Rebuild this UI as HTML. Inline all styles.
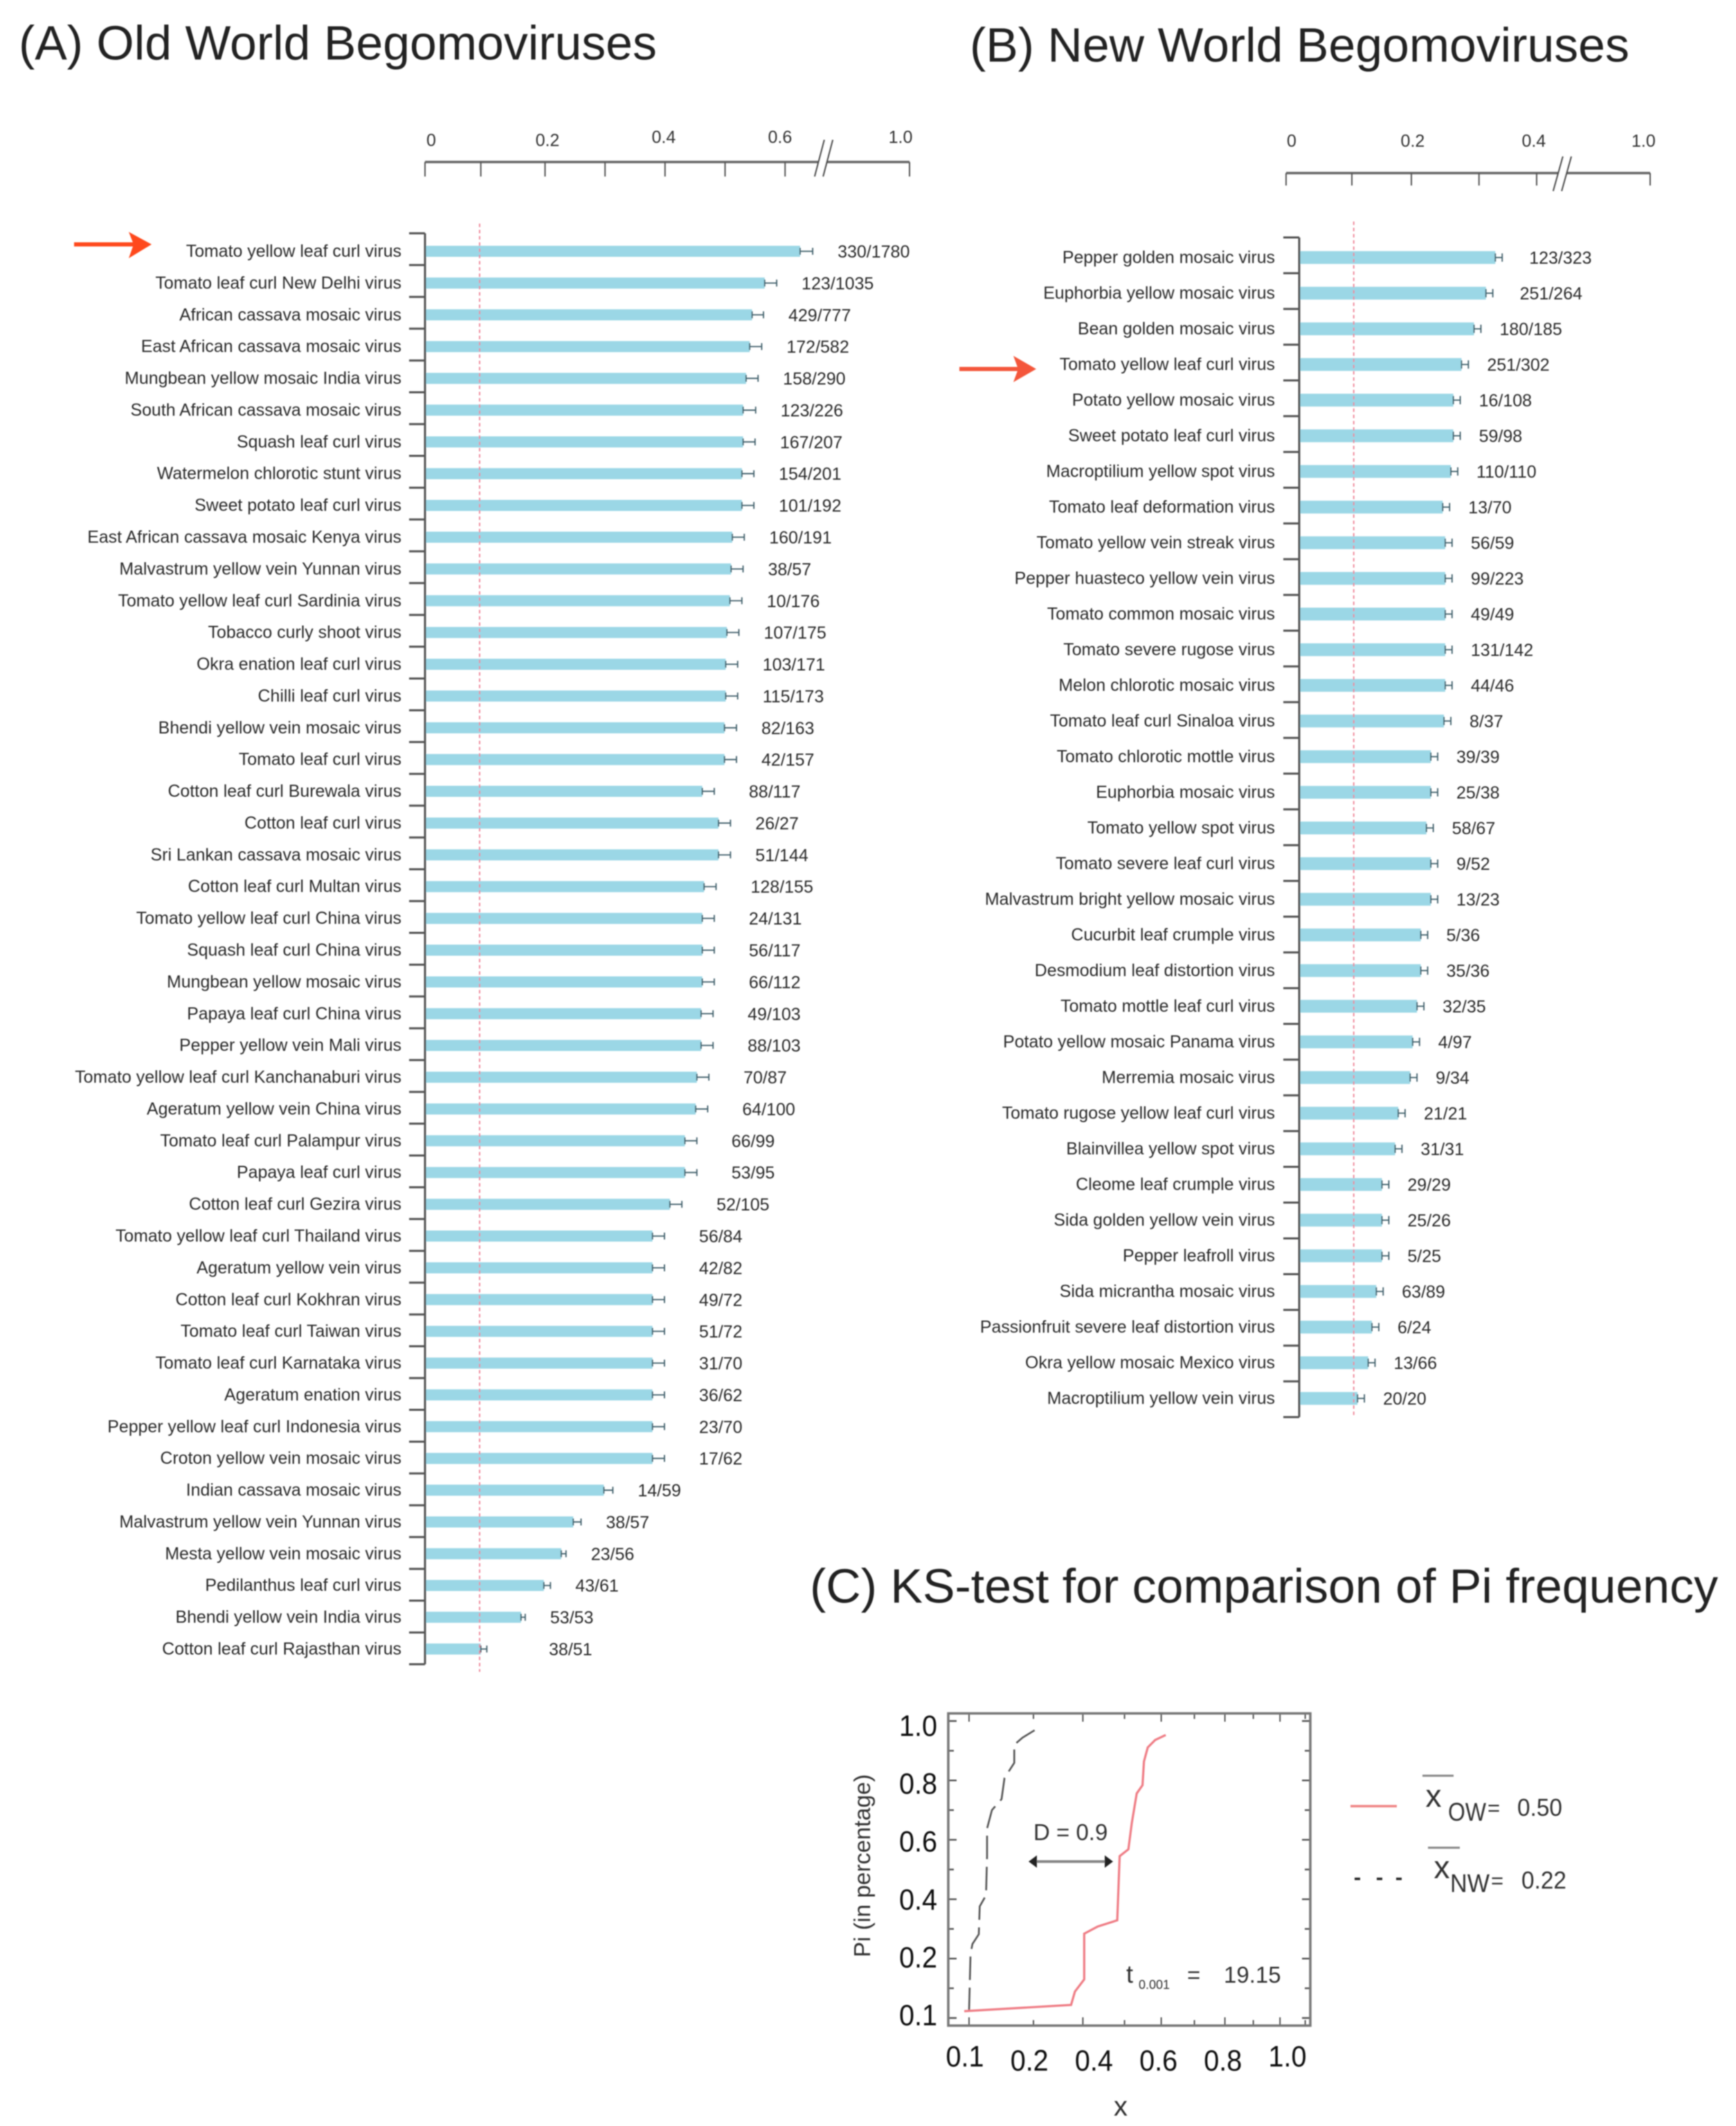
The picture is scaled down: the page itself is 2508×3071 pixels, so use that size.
<!DOCTYPE html>
<html lang="en">
<head>
<meta charset="utf-8">
<title>Begomovirus Pi frequency comparison</title>
<style>
html,body{margin:0;padding:0;background:#fff;width:2508px;height:3071px;overflow:hidden}
svg{position:absolute;left:0;top:0;display:block}
text{font-family:"Liberation Sans",sans-serif}
</style>
</head>
<body>
<svg id="figure" xmlns="http://www.w3.org/2000/svg" width="2508" height="3071" viewBox="0 0 2508 3071">
  <defs>
    <filter id="soft" x="-2%" y="-2%" width="104%" height="104%"><feGaussianBlur stdDeviation="0.7"/></filter>
  </defs>
  <rect x="0" y="0" width="2508" height="3071" fill="#fff"/>
  <g id="root" filter="url(#soft)">
    <text x="27" y="86" font-size="69.8" fill="#222">(A) Old World Begomoviruses</text>
    <text x="1401" y="89" font-size="69.8" fill="#222">(B) New World Begomoviruses</text>
    <text x="1170" y="2315" font-size="69.85" fill="#222">(C) KS-test for comparison of Pi frequency</text>

    <g id="panelA"></g>
    <g id="panelB"></g>

    <g>
      <rect x="107" y="350" width="92" height="6" fill="#ff4a1c"/>
      <polygon points="186,335 219,353 186,373 193,353" fill="#ff4a1c"/>
    </g>
    <g>
      <rect x="1386" y="530" width="90" height="6" fill="#f4573a"/>
      <polygon points="1464,514 1497,533 1464,552 1471,533" fill="#f4573a"/>
    </g>

    <g id="panelC">
      <text transform="translate(1257,2695) rotate(-90)" text-anchor="middle" font-size="33.5" fill="#333">Pi (in percentage)</text>
      <text x="1619" y="3056" text-anchor="middle" font-size="40" fill="#333">x</text>
      <text x="1493" y="2658" font-size="33" fill="#333">D = 0.9</text>
      <g>
        <line x1="1492" y1="2689" x2="1602" y2="2689" stroke="#888" stroke-width="4"/>
        <polygon points="1486,2689 1498,2680 1498,2698" fill="#222"/>
        <polygon points="1608,2689 1596,2680 1596,2698" fill="#222"/>
      </g>
      <text x="1627" y="2864" font-size="36" fill="#333">t</text>
      <text x="1645" y="2873" font-size="18" fill="#333">0.001</text>
      <text x="1715" y="2864" font-size="33" fill="#333">=</text>
      <text x="1768" y="2864" font-size="33" fill="#333">19.15</text>

      <g>
        <line x1="1951" y1="2609" x2="2018" y2="2609" stroke="#f08585" stroke-width="3.5"/>
        <line x1="2055" y1="2565" x2="2100" y2="2565" stroke="#888" stroke-width="3"/>
        <text x="2071" y="2610" text-anchor="middle" font-size="46" fill="#333">x</text>
        <text x="2092" y="2630" font-size="37" textLength="55" lengthAdjust="spacingAndGlyphs" fill="#333">OW</text>
        <text x="2149" y="2622" font-size="31" fill="#333">=</text>
        <text x="2192" y="2623" font-size="35" textLength="65" lengthAdjust="spacingAndGlyphs" fill="#333">0.50</text>
      </g>
      <g>
        <g stroke="#222" stroke-width="3.5">
          <line x1="1957" y1="2714" x2="1965" y2="2714"/>
          <line x1="1989" y1="2714" x2="1997" y2="2714"/>
          <line x1="2017" y1="2714" x2="2025" y2="2714"/>
        </g>
        <line x1="2063" y1="2669" x2="2109" y2="2669" stroke="#888" stroke-width="3"/>
        <text x="2083" y="2713" text-anchor="middle" font-size="46" fill="#333">x</text>
        <text x="2095" y="2733" font-size="37" textLength="57" lengthAdjust="spacingAndGlyphs" fill="#333">NW</text>
        <text x="2154" y="2727" font-size="31" fill="#333">=</text>
        <text x="2198" y="2728" font-size="35" textLength="65" lengthAdjust="spacingAndGlyphs" fill="#333">0.22</text>
      </g>
    </g>
  </g>
</svg>
<script>
/* Panel A data */
const namesA = ["Tomato yellow leaf curl virus","Tomato leaf curl New Delhi virus","African cassava mosaic virus","East African cassava mosaic virus","Mungbean yellow mosaic India virus","South African cassava mosaic virus","Squash leaf curl virus","Watermelon chlorotic stunt virus","Sweet potato leaf curl virus","East African cassava mosaic Kenya virus","Malvastrum yellow vein Yunnan virus","Tomato yellow leaf curl Sardinia virus","Tobacco curly shoot virus","Okra enation leaf curl virus","Chilli leaf curl virus","Bhendi yellow vein mosaic virus","Tomato leaf curl virus","Cotton leaf curl Burewala virus","Cotton leaf curl virus","Sri Lankan cassava mosaic virus","Cotton leaf curl Multan virus","Tomato yellow leaf curl China virus","Squash leaf curl China virus","Mungbean yellow mosaic virus","Papaya leaf curl China virus","Pepper yellow vein Mali virus","Tomato yellow leaf curl Kanchanaburi virus","Ageratum yellow vein China virus","Tomato leaf curl Palampur virus","Papaya leaf curl virus","Cotton leaf curl Gezira virus","Tomato yellow leaf curl Thailand virus","Ageratum yellow vein virus","Cotton leaf curl Kokhran virus","Tomato leaf curl Taiwan virus","Tomato leaf curl Karnataka virus","Ageratum enation virus","Pepper yellow leaf curl Indonesia virus","Croton yellow vein mosaic virus","Indian cassava mosaic virus","Malvastrum yellow vein Yunnan virus","Mesta yellow vein mosaic virus","Pedilanthus leaf curl virus","Bhendi yellow vein India virus","Cotton leaf curl Rajasthan virus"];
const valuesA = [0.625,0.566,0.545,0.541,0.535,0.530,0.530,0.528,0.528,0.512,0.510,0.508,0.503,0.501,0.501,0.499,0.499,0.462,0.489,0.489,0.465,0.462,0.462,0.462,0.460,0.460,0.453,0.451,0.433,0.433,0.408,0.379,0.379,0.379,0.379,0.379,0.379,0.379,0.379,0.298,0.247,0.227,0.198,0.160,0.093];
const errorsA = [0.021,0.020,0.019,0.020,0.020,0.021,0.020,0.020,0.020,0.020,0.020,0.020,0.020,0.020,0.020,0.020,0.020,0.020,0.020,0.020,0.020,0.020,0.020,0.020,0.020,0.020,0.020,0.020,0.020,0.020,0.020,0.020,0.020,0.020,0.020,0.020,0.020,0.020,0.020,0.015,0.013,0.008,0.011,0.007,0.010];
const countsA = ["330/1780","123/1035","429/777","172/582","158/290","123/226","167/207","154/201","101/192","160/191","38/57","10/176","107/175","103/171","115/173","82/163","42/157","88/117","26/27","51/144","128/155","24/131","56/117","66/112","49/103","88/103","70/87","64/100","66/99","53/95","52/105","56/84","42/82","49/72","51/72","31/70","36/62","23/70","17/62","14/59","38/57","23/56","43/61","53/53","38/51"];
const tickValuesA = [0,0.093,0.2,0.3,0.4,0.5,0.6,1.0];
const tickLabelValuesA = [0,0.2,0.4,0.6,1.0];
const tickLabelsA = ["0","0.2","0.4","0.6","1.0"];
const thresholdA = 0.091;

/* Panel B data */
const namesB = ["Pepper golden mosaic virus","Euphorbia yellow mosaic virus","Bean golden mosaic virus","Tomato yellow leaf curl virus","Potato yellow mosaic virus","Sweet potato leaf curl virus","Macroptilium yellow spot virus","Tomato leaf deformation virus","Tomato yellow vein streak virus","Pepper huasteco yellow vein virus","Tomato common mosaic virus","Tomato severe rugose virus","Melon chlorotic mosaic virus","Tomato leaf curl Sinaloa virus","Tomato chlorotic mottle virus","Euphorbia mosaic virus","Tomato yellow spot virus","Tomato severe leaf curl virus","Malvastrum bright yellow mosaic virus","Cucurbit leaf crumple virus","Desmodium leaf distortion virus","Tomato mottle leaf curl virus","Potato yellow mosaic Panama virus","Merremia mosaic virus","Tomato rugose yellow leaf curl virus","Blainvillea yellow spot virus","Cleome leaf crumple virus","Sida golden yellow vein virus","Pepper leafroll virus","Sida micrantha mosaic virus","Passionfruit severe leaf distortion virus","Okra yellow mosaic Mexico virus","Macroptilium yellow vein virus"];
const valuesB = [0.334,0.319,0.300,0.280,0.267,0.267,0.263,0.250,0.254,0.254,0.254,0.254,0.254,0.252,0.231,0.231,0.224,0.231,0.231,0.215,0.215,0.209,0.202,0.198,0.179,0.174,0.153,0.153,0.153,0.144,0.137,0.131,0.114];
const errorsB = [0.011,0.011,0.011,0.011,0.011,0.011,0.011,0.011,0.011,0.011,0.011,0.011,0.011,0.011,0.011,0.011,0.011,0.011,0.011,0.011,0.011,0.011,0.011,0.011,0.011,0.011,0.011,0.011,0.011,0.011,0.011,0.011,0.011];
const countsB = ["123/323","251/264","180/185","251/302","16/108","59/98","110/110","13/70","56/59","99/223","49/49","131/142","44/46","8/37","39/39","25/38","58/67","9/52","13/23","5/36","35/36","32/35","4/97","9/34","21/21","31/31","29/29","25/26","5/25","63/89","6/24","13/66","20/20"];
const tickValuesB = [0,0.105,0.2,0.308,0.4,1.0];
const tickLabelValuesB = [0,0.2,0.4,1.0];
const tickLabelsB = ["0","0.2","0.4","1.0"];
const thresholdB = 0.108;

/* Panel C data */
const oldWorldX = [0.0939,0.2743,0.2826,0.303,0.303,0.334,0.3815,0.3876,0.41,0.419,0.432,0.4476,0.4516,0.462,0.4826,0.513];
const oldWorldY = [0.023,0.044,0.089,0.13,0.284,0.308,0.329,0.545,0.568,0.657,0.756,0.784,0.864,0.911,0.936,0.953];
const newWorldX = [0.1,0.1019,0.1044,0.1129,0.1142,0.123,0.1245,0.1245,0.1316,0.1462,0.1508,0.1666,0.1666,0.1806,0.2021];
const newWorldY = [0.023,0.216,0.249,0.282,0.376,0.413,0.545,0.638,0.70,0.737,0.808,0.859,0.92,0.944,0.969];
const ksXTicks = [0.1,0.2,0.3,0.4,0.5,0.6,0.7,0.8,0.9,1.0];
const ksYTicks = [0,0.1,0.2,0.3,0.4,0.5,0.6,0.7,0.8,0.9,1.0];
const ksXLabels = ["0.1","0.2","0.4","0.6","0.8","1.0"];
const ksYLabels = ["1.0","0.8","0.6","0.4","0.2","0.1"];

const NS = "http://www.w3.org/2000/svg";
function make(parent, tag, attrs, text) {
  const el = document.createElementNS(NS, tag);
  for (const k in attrs) el.setAttribute(k, attrs[k]);
  if (text !== undefined) el.textContent = text;
  parent.appendChild(el);
  return el;
}

function drawBars(cfg) {
  const g = document.getElementById(cfg.id);
  const x = cfg.x;
  const rowY = i => cfg.rowFirst + i * (cfg.rowLast - cfg.rowFirst) / (cfg.names.length - 1);
  const tickY = i => cfg.bandTop + i * (cfg.bandBottom - cfg.bandTop) / cfg.names.length;

  /* top axis */
  const axis = make(g, "line", {x1: x(0), y1: cfg.axisY, x2: x(1), y2: cfg.axisY, stroke: "#666", "stroke-width": 3.5});
  
  
  cfg.tickValues.forEach(v => {
    const t = make(g, "line", {x1: x(v), y1: cfg.axisY, x2: x(v), y2: cfg.tickEnd, stroke: "#555", "stroke-width": 2});
    
    
  });
  cfg.tickLabelValues.forEach((v, i) => {
    const label = make(g, "text", {x: cfg.labelX(x(v)), y: cfg.labelY(v), "text-anchor": "middle", "font-size": 25, fill: "#333"}, cfg.tickLabels[i]);
    
    
  });

  /* axis break */
  const b = cfg.breakAt;
  const gap = make(g, "polygon", {points: `${b[0]},${b[3]} ${b[1]},${b[3]} ${b[2]+b[1]-b[0]},${b[4]} ${b[2]},${b[4]}`, fill: "#fff"});
  
  
  [b[0], b[1]].forEach(bx => {
    const s = make(g, "line", {x1: bx, y1: b[3], x2: bx + b[2] - b[0], y2: b[4], stroke: "#444", "stroke-width": 2.2});
    
    
  });

  /* bars */
  cfg.names.forEach((name, i) => {
    const y = rowY(i);
    const x1 = x(cfg.values[i]);
    const x2 = x(cfg.values[i] + cfg.errors[i]);
    const bar = make(g, "rect", {x: cfg.axisX, y: y - cfg.barH / 2, width: Math.max(0, x1 - cfg.axisX), height: cfg.barH, fill: "#9bd7e6"});
    
    
    const w = make(g, "path", {d: `M${x1} ${y-cfg.capH}V${y+cfg.capH}M${x1} ${y}H${x2}M${x2} ${y-cfg.capH}V${y+cfg.capH}`, stroke: "#3f5f6a", "stroke-width": 1.8, fill: "none"});
    
    
    const nameLabel = make(g, "text", {x: cfg.nameX, y: y + 8, "text-anchor": "end", "font-size": 24.9, fill: "#2a2a2a"}, name);
    
    
    const countLabel = make(g, "text", {x: Math.max(x2 + cfg.countGap(cfg.values[i]), cfg.countMinX), y: y + 9, "font-size": 25, fill: "#2a2a2a"}, cfg.counts[i]);
    
    
  });

  /* threshold */
  const th = make(g, "line", {x1: x(cfg.threshold), y1: cfg.thTop, x2: x(cfg.threshold), y2: cfg.thBottom, stroke: "#ee7f93", "stroke-width": 1.8, "stroke-dasharray": "5 4"});
  
  

  /* category axis */
  const vert = make(g, "line", {x1: cfg.axisX, y1: cfg.bandTop, x2: cfg.axisX, y2: cfg.bandBottom, stroke: "#555", "stroke-width": 3});
  
  
  for (let i = 0; i <= cfg.names.length; i++) {
    const t = make(g, "line", {x1: cfg.axisX - cfg.tickLen, y1: tickY(i), x2: cfg.axisX, y2: tickY(i), stroke: "#555", "stroke-width": 3});
    
    
  }
}

/* Panel A: linear up to the axis break, then compressed */
const xA = v => v <= 0.66 ? 614 + 867 * v : 1186 + (v - 0.66) * (1314 - 1186) / 0.34;
drawBars({
  id: "panelA", x: xA, names: namesA, values: valuesA, errors: errorsA, counts: countsA,
  tickValues: tickValuesA, tickLabelValues: tickLabelValuesA, tickLabels: tickLabelsA, threshold: thresholdA,
  axisY: 234, tickEnd: 255, labelX: px => 623 + (px - 614) * 0.9686, labelY: v => v <= 0.2 ? 211 : 206.5,
  breakAt: [1177, 1189, 1191, 255, 202],
  rowFirst: 363, rowLast: 2382, bandTop: 337, bandBottom: 2404, axisX: 614, tickLen: 23,
  barH: 16, capH: 5, nameX: 580, countGap: v => v > 0.37 && v < 0.47 ? 50 : 36, countMinX: 793, thTop: 323, thBottom: 2415
});

/* Panel B */
const xB = v => v <= 0.43 ? 1858 + 905 * v : 2247 + (v - 0.43) * (2384 - 2247) / 0.57;
drawBars({
  id: "panelB", x: xB, names: namesB, values: valuesB, errors: errorsB, counts: countsB,
  tickValues: tickValuesB, tickLabelValues: tickLabelValuesB, tickLabels: tickLabelsB, threshold: thresholdB,
  axisY: 250, tickEnd: 268, labelX: px => 1866 + (px - 1858) * 0.9665, labelY: () => 212,
  breakAt: [2244, 2256, 2258, 276, 226],
  rowFirst: 372, rowLast: 2020, bandTop: 343, bandBottom: 2047, axisX: 1877, tickLen: 23,
  barH: 18.5, capH: 6, nameX: 1842, countGap: v => v > 0.31 ? 39 : 27, countMinX: 0, thTop: 320, thBottom: 2045
});

/* Panel C */
(function () {
  const g = document.getElementById("panelC");
  const fx = v => 1400 + 224.6 * (Math.sqrt(10 * v) - 1);
  const fy = v => 2915 - 429 * v;
  const L = 1370, R = 1893, T = 2475, B = 2926;

  ksXTicks.forEach((v, i) => {
    const len = i % 2 === 0 ? 12 : 8;
    const t = make(g, "path", {d: `M${fx(v)} ${B}v${-len}M${fx(v)} ${T}v${len}`, stroke: "#555", "stroke-width": 2, fill: "none"});
    
    
  });
  ksYTicks.forEach((v, i) => {
    const len = i % 2 === 0 ? 12 : 8;
    const t = make(g, "path", {d: `M${L} ${fy(v)}h${len}M${R} ${fy(v)}h${-len}`, stroke: "#555", "stroke-width": 2.4, fill: "none"});
    
    
  });

  const frame = make(g, "rect", {x: L, y: T, width: R - L, height: B - T, fill: "none", stroke: "#777", "stroke-width": 3.5});
  
  

  ksXLabels.forEach((s, i) => {
    const edge = i === 0 || i === ksXLabels.length - 1;
    const t = make(g, "text", {x: 1394 + i * 93.2, y: edge ? 2985 : 2991, "text-anchor": "middle", "font-size": 43, textLength: 55, lengthAdjust: "spacingAndGlyphs", fill: "#111"}, s);
    
    
  });
  ksYLabels.forEach((s, i) => {
    const t = make(g, "text", {x: 1354, y: 2507.5 + i * 83.6, "text-anchor": "end", "font-size": 43, textLength: 55, lengthAdjust: "spacingAndGlyphs", fill: "#111"}, s);
    
    
  });

  const nw = make(g, "polyline", {points: newWorldX.map((v, i) => fx(v) + "," + fy(newWorldY[i])).join(" "), fill: "none", stroke: "#555", "stroke-width": 2.6, "stroke-dasharray": "34 11"});
  
  
  const ow = make(g, "polyline", {points: oldWorldX.map((v, i) => fx(v) + "," + fy(oldWorldY[i])).join(" "), fill: "none", stroke: "#ef7d85", "stroke-width": 3.2});
  
  
})();
</script>
</body>
</html>
